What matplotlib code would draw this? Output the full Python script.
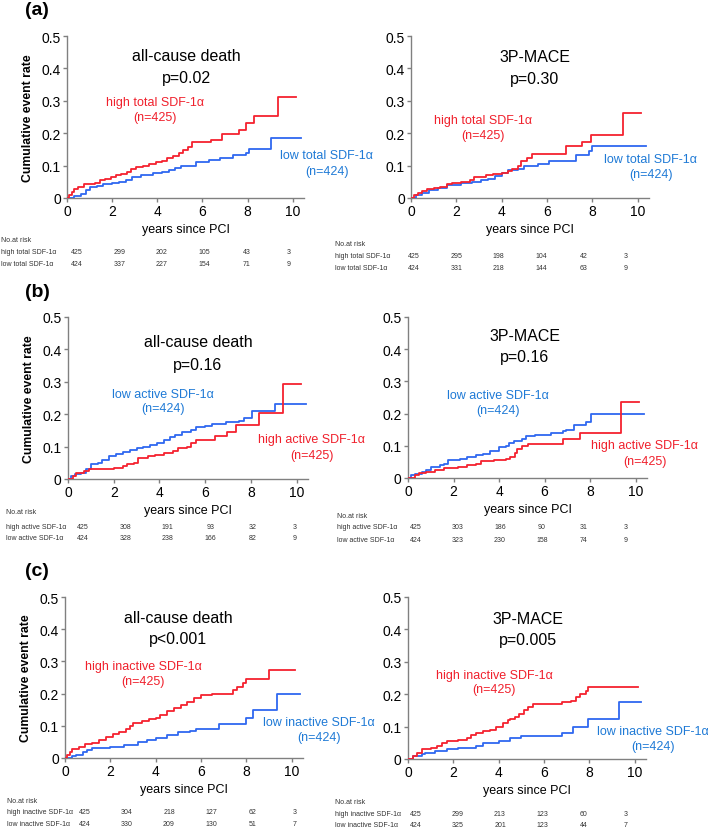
import matplotlib
matplotlib.use("Agg")
import matplotlib.pyplot as plt

plt.rcParams["font.family"] = ["Liberation Sans", "DejaVu Sans"]

RED = "#f5222f"
BLUE = "#2f68f0"
RED_TXT = "#f0202c"
BLUE_TXT = "#1f7ad6"
AXIS_GRAY = "#808080"
TABLE_TXT = "#333333"

W, H = 708, 829

Y_TICKS = [0, 0.1, 0.2, 0.3, 0.4, 0.5]
Y_TICK_LABELS = ["0", "0.1", "0.2", "0.3", "0.4", "0.5"]
X_TICKS = [0, 2, 4, 6, 8, 10]

# ---- (a) total SDF-1a ----
A_DEATH_HIGH_T = [0, 0.1, 0.2, 0.3, 0.5, 0.75, 1.25, 1.45, 1.7, 1.95, 2.15, 2.4, 2.65, 2.85, 3.05, 3.35,
                  3.65, 3.95, 4.2, 4.45, 4.7, 4.95, 5.15, 5.35, 5.55, 6.4, 6.85, 7.6, 7.95, 8.3, 9.35, 10.15]
A_DEATH_HIGH_V = [0, 0.01, 0.02, 0.027, 0.033, 0.044, 0.047, 0.055, 0.06, 0.064, 0.07, 0.075, 0.08, 0.09,
                  0.095, 0.1, 0.105, 0.11, 0.115, 0.125, 0.13, 0.14, 0.147, 0.157, 0.172, 0.178, 0.197,
                  0.21, 0.23, 0.254, 0.312, 0.312]
A_DEATH_LOW_T = [0, 0.3, 0.6, 0.85, 1.0, 1.35, 1.6, 2.0, 2.3, 2.6, 2.9, 3.3, 3.8, 4.2, 4.5, 4.8, 5.05,
                 5.7, 6.3, 6.8, 7.35, 7.95, 8.05, 9.05, 10.35]
A_DEATH_LOW_V = [0, 0.006, 0.012, 0.025, 0.033, 0.037, 0.042, 0.047, 0.05, 0.055, 0.065, 0.072, 0.076,
                 0.08, 0.087, 0.092, 0.1, 0.11, 0.117, 0.123, 0.133, 0.14, 0.152, 0.186, 0.186]
A_MACE_HIGH_T = [0, 0.15, 0.3, 0.5, 0.7, 1.0, 1.3, 1.6, 1.8, 2.2, 2.6, 2.8, 3.3, 3.6, 4.0, 4.3, 4.45,
                 4.7, 4.85, 5.1, 5.35, 6.85, 7.55, 7.95, 9.35, 10.15]
A_MACE_HIGH_V = [0, 0.008, 0.015, 0.022, 0.028, 0.031, 0.035, 0.042, 0.046, 0.05, 0.055, 0.064, 0.07,
                 0.073, 0.076, 0.082, 0.09, 0.1, 0.115, 0.125, 0.136, 0.16, 0.174, 0.195, 0.262, 0.262]
A_MACE_LOW_T = [0, 0.2, 0.5, 0.8, 1.2, 1.6, 2.2, 2.7, 3.1, 3.4, 3.7, 4.0, 4.3, 4.7, 5.0, 5.6, 6.1,
                7.3, 7.85, 8.0, 10.35]
A_MACE_LOW_V = [0, 0.008, 0.016, 0.024, 0.032, 0.04, 0.045, 0.05, 0.055, 0.06, 0.068, 0.076, 0.085,
                0.09, 0.1, 0.105, 0.113, 0.133, 0.146, 0.161, 0.161]

# ---- (b) active SDF-1a ----
B_DEATH_HIGH_T = [0, 0.2, 0.35, 0.7, 0.9, 1.5, 2.0, 2.4, 2.6, 2.9, 3.05, 3.5, 3.8, 4.2, 4.6, 4.8, 5.2,
                  5.4, 5.6, 6.45, 6.95, 7.35, 8.35, 9.4, 10.2]
B_DEATH_HIGH_V = [0, 0.01, 0.02, 0.025, 0.03, 0.032, 0.035, 0.04, 0.045, 0.05, 0.065, 0.07, 0.075,
                  0.08, 0.085, 0.095, 0.1, 0.11, 0.12, 0.134, 0.146, 0.167, 0.204, 0.292, 0.292]
B_DEATH_LOW_T = [0, 0.15, 0.3, 0.55, 0.8, 1.0, 1.3, 1.5, 1.8, 2.1, 2.4, 2.7, 3.0, 3.3, 3.6, 3.9, 4.2,
                 4.45, 4.7, 5.0, 5.4, 5.6, 6.0, 6.3, 6.9, 7.5, 7.7, 8.05, 9.05, 10.4]
B_DEATH_LOW_V = [0, 0.008, 0.015, 0.02, 0.03, 0.045, 0.05, 0.06, 0.07, 0.078, 0.082, 0.09, 0.095, 0.1,
                 0.105, 0.11, 0.12, 0.13, 0.135, 0.145, 0.15, 0.16, 0.165, 0.17, 0.175, 0.18, 0.187,
                 0.209, 0.232, 0.232]
B_MACE_HIGH_T = [0, 0.3, 0.5, 0.8, 1.2, 1.6, 2.2, 2.6, 3.0, 3.2, 3.8, 4.3, 4.5, 4.7, 4.8, 5.0, 5.28,
                 6.82, 7.55, 9.35, 10.15]
B_MACE_HIGH_V = [0, 0.008, 0.015, 0.02, 0.025, 0.03, 0.035, 0.04, 0.045, 0.052, 0.055, 0.06, 0.065,
                 0.078, 0.09, 0.1, 0.106, 0.12, 0.14, 0.237, 0.237]
B_MACE_LOW_T = [0, 0.15, 0.3, 0.6, 0.8, 1.0, 1.4, 1.6, 1.75, 2.3, 2.6, 3.0, 3.3, 3.6, 4.0, 4.3, 4.45,
                4.65, 5.0, 5.2, 5.6, 6.3, 6.8, 6.95, 7.3, 7.8, 8.05, 10.35]
B_MACE_LOW_V = [0, 0.008, 0.012, 0.02, 0.025, 0.035, 0.04, 0.045, 0.055, 0.06, 0.065, 0.07, 0.075,
                0.085, 0.095, 0.1, 0.11, 0.115, 0.12, 0.13, 0.135, 0.14, 0.145, 0.15, 0.165, 0.173,
                0.199, 0.199]

# ---- (c) inactive SDF-1a ----
C_DEATH_HIGH_T = [0, 0.1, 0.2, 0.3, 0.6, 0.9, 1.2, 1.5, 1.8, 2.1, 2.4, 2.7, 2.85, 3.0, 3.4, 3.7, 4.0,
                  4.2, 4.5, 4.8, 5.1, 5.4, 5.7, 6.0, 6.5, 7.4, 7.6, 7.85, 8.0, 9.0, 10.15]
C_DEATH_HIGH_V = [0, 0.01, 0.02, 0.028, 0.035, 0.043, 0.048, 0.055, 0.065, 0.075, 0.08, 0.09, 0.1,
                  0.11, 0.115, 0.12, 0.125, 0.135, 0.145, 0.155, 0.165, 0.175, 0.185, 0.195, 0.2, 0.21,
                  0.22, 0.232, 0.246, 0.274, 0.274]
C_DEATH_LOW_T = [0, 0.3, 0.5, 0.8, 0.95, 1.2, 2.0, 2.6, 3.2, 3.6, 4.0, 4.5, 5.0, 5.5, 5.8, 6.8, 8.0,
                 8.3, 9.35, 10.35]
C_DEATH_LOW_V = [0, 0.005, 0.01, 0.02, 0.025, 0.03, 0.035, 0.04, 0.05, 0.055, 0.063, 0.07, 0.08,
                 0.085, 0.09, 0.105, 0.125, 0.148, 0.2, 0.2]
C_MACE_HIGH_T = [0, 0.2, 0.4, 0.6, 1.0, 1.3, 1.5, 1.7, 2.2, 2.6, 2.8, 3.0, 3.3, 3.6, 3.9, 4.2, 4.4,
                 4.5, 4.7, 4.9, 5.1, 5.3, 5.5, 6.8, 7.2, 7.4, 7.6, 7.85, 7.95, 10.15]
C_MACE_HIGH_V = [0, 0.01, 0.02, 0.03, 0.035, 0.04, 0.05, 0.055, 0.06, 0.065, 0.075, 0.08, 0.085, 0.09,
                 0.1, 0.11, 0.12, 0.125, 0.13, 0.14, 0.15, 0.16, 0.17, 0.175, 0.18, 0.19, 0.2, 0.21,
                 0.222, 0.222]
C_MACE_LOW_T = [0, 0.2, 0.6, 0.75, 1.2, 1.7, 2.2, 3.0, 3.3, 4.0, 4.5, 5.0, 6.8, 7.3, 7.95, 9.3, 10.3]
C_MACE_LOW_V = [0, 0.01, 0.015, 0.02, 0.025, 0.03, 0.035, 0.04, 0.05, 0.055, 0.065, 0.07, 0.08, 0.1,
                0.124, 0.177, 0.177]

# ---- numbers at risk ----
A_DEATH_RISK_HIGH = [425, 299, 202, 105, 43, 3]
A_DEATH_RISK_LOW = [424, 337, 227, 154, 71, 9]
A_MACE_RISK_HIGH = [425, 295, 198, 104, 42, 3]
A_MACE_RISK_LOW = [424, 331, 218, 144, 63, 9]
B_DEATH_RISK_HIGH = [425, 308, 191, 93, 32, 3]
B_DEATH_RISK_LOW = [424, 328, 238, 166, 82, 9]
B_MACE_RISK_HIGH = [425, 303, 186, 90, 31, 3]
B_MACE_RISK_LOW = [424, 323, 230, 158, 74, 9]
C_DEATH_RISK_HIGH = [425, 304, 218, 127, 62, 3]
C_DEATH_RISK_LOW = [424, 330, 209, 130, 51, 7]
C_MACE_RISK_HIGH = [425, 299, 213, 123, 60, 3]
C_MACE_RISK_LOW = [424, 325, 201, 123, 44, 7]

GROUP_NAMES = ["total", "active", "inactive"]
P_VALUES = [["p=0.02", "p=0.30"], ["p=0.16", "p=0.16"], ["p<0.001", "p=0.005"]]

PANELS = [
    dict(row=0, col=0, title="all-cause death",
         high=(A_DEATH_HIGH_T, A_DEATH_HIGH_V), low=(A_DEATH_LOW_T, A_DEATH_LOW_V),
         risk=(A_DEATH_RISK_HIGH, A_DEATH_RISK_LOW),
         rect=(67, 199, 237, 162), title_xy=(5.3, 0.44, 0.373),
         high_lab=(3.9, 0.295, 0.249), low_lab=(11.5, 0.132, 0.084),
         table=(1, 240, 253, 265, 77, 42.4)),
    dict(row=0, col=1, title="3P-MACE",
         high=(A_MACE_HIGH_T, A_MACE_HIGH_V), low=(A_MACE_LOW_T, A_MACE_LOW_V),
         risk=(A_MACE_RISK_HIGH, A_MACE_RISK_LOW),
         rect=(411, 199, 238, 162), title_xy=(5.45, 0.437, 0.37),
         high_lab=(3.17, 0.242, 0.195), low_lab=(10.58, 0.119, 0.074),
         table=(335, 245, 257, 268, 414, 42.4)),
    dict(row=1, col=0, title="all-cause death",
         high=(B_DEATH_HIGH_T, B_DEATH_HIGH_V), low=(B_DEATH_LOW_T, B_DEATH_LOW_V),
         risk=(B_DEATH_RISK_HIGH, B_DEATH_RISK_LOW),
         rect=(68, 480, 240, 162), title_xy=(5.68, 0.425, 0.353),
         high_lab=(10.66, 0.124, 0.075), low_lab=(4.15, 0.263, 0.219),
         table=(6, 513, 528, 539, 83, 42.4)),
    dict(row=1, col=1, title="3P-MACE",
         high=(B_MACE_HIGH_T, B_MACE_HIGH_V), low=(B_MACE_LOW_T, B_MACE_LOW_V),
         risk=(B_MACE_RISK_HIGH, B_MACE_RISK_LOW),
         rect=(408, 479, 239, 161), title_xy=(5.14, 0.443, 0.377),
         high_lab=(10.39, 0.101, 0.052), low_lab=(3.97, 0.258, 0.212),
         table=(337, 517, 528, 540, 416, 42.0)),
    dict(row=2, col=0, title="all-cause death",
         high=(C_DEATH_HIGH_T, C_DEATH_HIGH_V), low=(C_DEATH_LOW_T, C_DEATH_LOW_V),
         risk=(C_DEATH_RISK_HIGH, C_DEATH_RISK_LOW),
         rect=(65, 759, 238, 161), title_xy=(4.98, 0.435, 0.37),
         high_lab=(3.44, 0.286, 0.239), low_lab=(11.2, 0.112, 0.065),
         table=(7, 802, 813, 825, 85, 42.0)),
    dict(row=2, col=1, title="3P-MACE",
         high=(C_MACE_HIGH_T, C_MACE_HIGH_V), low=(C_MACE_LOW_T, C_MACE_LOW_V),
         risk=(C_MACE_RISK_HIGH, C_MACE_RISK_LOW),
         rect=(408, 760, 238, 162), title_xy=(5.31, 0.433, 0.369),
         high_lab=(3.81, 0.26, 0.216), low_lab=(10.8, 0.085, 0.041),
         table=(335, 803, 815, 826, 416, 42.0)),
]

LETTERS = [("(a)", 25, 2), ("(b)", 25, 284), ("(c)", 25, 563)]

fig = plt.figure(figsize=(W / 100, H / 100), dpi=100)
fig.patch.set_facecolor("white")

for p in PANELS:
    left, bottom, w, h = p["rect"]
    ax = fig.add_axes([left / W, 1 - bottom / H, w / W, h / H])
    group = GROUP_NAMES[p["row"]]
    high_name = f"high {group} SDF-1α"
    low_name = f"low {group} SDF-1α"

    ax.step(*p["low"], where="post", color=BLUE, lw=1.3, zorder=3)
    ax.step(*p["high"], where="post", color=RED, lw=1.3, zorder=3)

    ax.set_xlim(0, 10.5)
    ax.set_ylim(0, 0.5)
    ax.set_xticks(X_TICKS)
    ax.set_yticks(Y_TICKS)
    ax.set_yticklabels(Y_TICK_LABELS)
    ax.spines["top"].set_visible(False)
    ax.spines["right"].set_visible(False)
    for s in ("left", "bottom"):
        ax.spines[s].set_color(AXIS_GRAY)
        ax.spines[s].set_linewidth(1.0)
    ax.tick_params(direction="out", length=3, width=1.0, color=AXIS_GRAY,
                   labelsize=10, pad=1.5)
    ax.set_xlabel("years since PCI", fontsize=9)
    ax.xaxis.set_label_coords(0.5, -25 / h)
    if p["col"] == 0:
        ax.set_ylabel("Cumulative event rate", fontsize=8.8, fontweight="bold")
        ax.yaxis.set_label_coords(-33 / w, 0.5)

    tx, ty1, ty2 = p["title_xy"]
    ax.text(tx, ty1, p["title"], ha="center", va="center", fontsize=11.5)
    ax.text(tx, ty2, P_VALUES[p["row"]][p["col"]], ha="center", va="center", fontsize=11.5)

    hx, hy1, hy2 = p["high_lab"]
    ax.text(hx, hy1, high_name, ha="center", va="center", fontsize=9, color=RED_TXT, clip_on=False)
    ax.text(hx, hy2, "(n=425)", ha="center", va="center", fontsize=9, color=RED_TXT, clip_on=False)
    lx, ly1, ly2 = p["low_lab"]
    ax.text(lx, ly1, low_name, ha="center", va="center", fontsize=9, color=BLUE_TXT, clip_on=False)
    ax.text(lx, ly2, "(n=424)", ha="center", va="center", fontsize=9, color=BLUE_TXT, clip_on=False)

    # number-at-risk table
    lab_x, y0, y1, y2, num_x0, step = p["table"]
    fs = 5
    fig.text(lab_x / W, 1 - y0 / H, "No.at risk", fontsize=fs, va="center", ha="left", color=TABLE_TXT)
    for row_y, name, counts in ((y1, high_name, p["risk"][0]), (y2, low_name, p["risk"][1])):
        fig.text(lab_x / W, 1 - row_y / H, name, fontsize=fs, va="center", ha="left", color=TABLE_TXT)
        for i, n in enumerate(counts):
            fig.text((num_x0 + i * step) / W, 1 - row_y / H, str(n), fontsize=fs,
                     va="center", ha="center", color=TABLE_TXT)

for letter, x, y in LETTERS:
    fig.text(x / W, 1 - y / H, letter, fontsize=14, fontweight="bold", va="top", ha="left")

fig.savefig("out.png", dpi=100, facecolor="white")
